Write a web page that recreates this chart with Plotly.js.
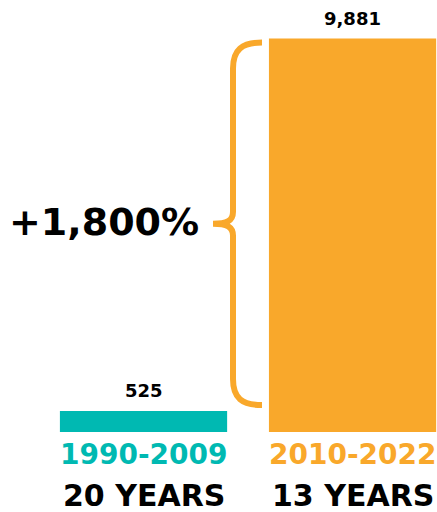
<!DOCTYPE html>
<html><head><meta charset="utf-8">
<script src="https://cdn.plot.ly/plotly-3.0.1.min.js"></script>
<style>html,body{margin:0;padding:0;background:#fff}</style></head>
<body><div id="chart" style="width:437px;height:512px"></div>
<script>
const periods = ["1990-2009", "2010-2022"];
const durations = ["20 YEARS", "13 YEARS"];
const counts = [525, 9881];
const valueLabels = ["525", "9,881"];
const growthLabel = "+1,800%";
const colors = ["#00B9B2", "#F9A82B"];

const W = 437, H = 512, B = 80;
const plotH = H - B;
const yMax = 10849;
const xMin = -0.6866, xMax = 1.404;
const pxPerX = W / (xMax - xMin);
const pxPerY = plotH / yMax;
const dx = px => xMin + px / pxPerX;
const dy = py => (plotH - py) / pxPerY;
const pyOf = v => plotH - v * pxPerY;

const FONT = "DejaVu Sans";

// brace between the two bar tops
const yT = pyOf(counts[1]) + 4;
const yB = pyOf(counts[0]) - 6;
const ym = (yT + yB) / 2;
const xe = 262, xl = 233, xt = 213;
const P = (x, y) => dx(x) + "," + dy(y);
const bracePath =
  "M " + P(xe, yT) +
  " C " + P(242, yT) + " " + P(xl, yT + 7) + " " + P(xl, yT + 26) +
  " L " + P(xl, ym - 12) +
  " C " + P(xl, ym - 3) + " " + P(227, ym) + " " + P(xt, ym) +
  " C " + P(227, ym) + " " + P(xl, ym + 3) + " " + P(xl, ym + 12) +
  " L " + P(xl, yB - 26) +
  " C " + P(xl, yB - 7) + " " + P(242, yB) + " " + P(xe, yB);

const xs = counts.map((_, i) => i);

const annotations = [];
xs.forEach(i => {
  annotations.push({x: i, y: counts[i], xref: 'x', yref: 'y', text: valueLabels[i],
    showarrow: false, yanchor: 'bottom', yshift: 8,
    font: {family: FONT, size: 18, color: '#000', weight: 'bold'}});
  annotations.push({x: i, y: 0, xref: 'x', yref: 'paper', text: periods[i],
    showarrow: false, yanchor: 'middle', yshift: -22,
    font: {family: FONT, size: 28, color: colors[i], weight: 'bold'}});
  annotations.push({x: i, y: 0, xref: 'x', yref: 'paper', text: durations[i],
    showarrow: false, yanchor: 'middle', yshift: -63,
    font: {family: FONT, size: 30, color: '#000', weight: 'bold'}});
});
annotations.push({x: dx(xt), y: dy(ym), xref: 'x', yref: 'y', text: growthLabel,
  showarrow: false, xanchor: 'right', yanchor: 'middle', xshift: -12, yshift: 2,
  font: {family: FONT, size: 38, color: '#000', weight: 'bold'}});

const data = [{
  type: 'bar', x: xs, y: counts, width: 0.8,
  marker: {color: colors, line: {width: 0}},
  hoverinfo: 'none', textposition: 'none'
}];

const layout = {
  width: W, height: H,
  margin: {l: 0, r: 0, t: 0, b: B, pad: 0},
  paper_bgcolor: '#fff', plot_bgcolor: '#fff',
  showlegend: false,
  xaxis: {range: [xMin, xMax], visible: false, fixedrange: true},
  yaxis: {range: [0, yMax], visible: false, fixedrange: true},
  shapes: [{type: 'path', xref: 'x', yref: 'y', path: bracePath,
    line: {color: colors[1], width: 6}, fillcolor: 'rgba(0,0,0,0)'}],
  annotations: annotations
};

Plotly.newPlot('chart', data, layout, {displayModeBar: false, staticPlot: true});
</script></body></html>
